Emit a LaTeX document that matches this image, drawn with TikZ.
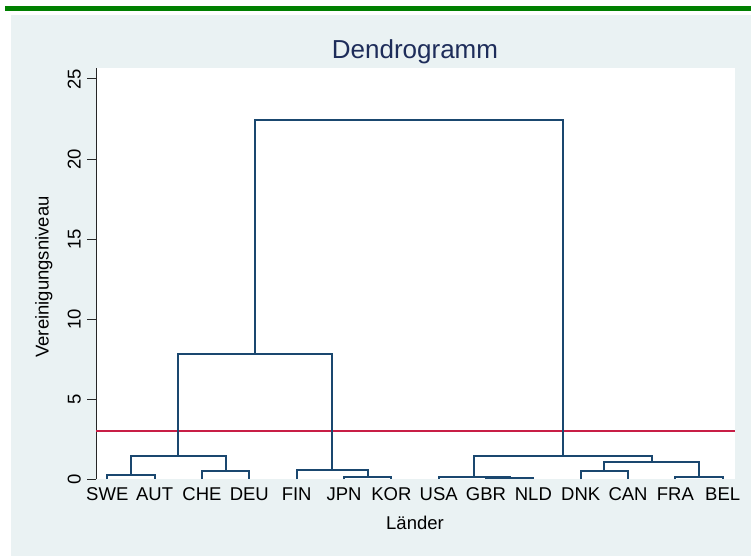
\documentclass[tikz,border=0pt]{standalone}
\usepackage{fontspec}
\setmainfont{Liberation Sans}
\usetikzlibrary{calc}
\definecolor{bgcol}{RGB}{234,242,243}
\definecolor{barcol}{RGB}{0,128,0}
\definecolor{dendcol}{RGB}{26,71,111}
\definecolor{cutcol}{RGB}{200,30,70}
\definecolor{titlecol}{RGB}{30,45,90}
\tikzset{
  dendline/.style={draw=dendcol,line width=1.8pt,line join=miter},
  ticklab/.style={font=\fontsize{18.5}{20}\selectfont,inner sep=0pt,rotate=90,anchor=south},
  leaflab/.style={font=\fontsize{18.5}{20}\selectfont,inner sep=0pt,anchor=base},
  tickline/.style={draw=black!85,line width=1pt}
}
\begin{document}
\begin{tikzpicture}[x=1pt,y=-1pt]
\useasboundingbox (0,0) rectangle (751,559);
\fill[white] (0,0) rectangle (751,559);
% top bar and background
\fill[barcol] (5,6) rectangle (751,11);
\fill[bgcol] (11,15) rectangle (751,555.7);
% plot region
\fill[white] (96,68) rectangle (735,479);
% title
\node[font=\fontsize{26}{28}\selectfont,text=titlecol,inner sep=0pt,anchor=base] (title) at (415,59) {Dendrogramm};
% y axis
\coordinate (ax0) at (96,479);
\coordinate (ax1) at (96,68);
\draw[tickline] (ax0) -- (ax1);
\foreach \v/\n in {0/t0,5/t5,10/t10,15/t15,20/t20,25/t25}{
  \coordinate (\n a) at (87,{479-16*\v});
  \coordinate (\n b) at (96,{479-16*\v});
  \draw[tickline] (\n a) -- (\n b);
  \node[ticklab] (\n l) at (81,{479-16*\v}) {\v};
}
\node[font=\fontsize{18.5}{20}\selectfont,inner sep=0pt,rotate=90,anchor=base] (ytitle) at (48.5,277) {Vereinigungsniveau};
% leaves
\foreach \i/\lab in {0/SWE,1/AUT,2/CHE,3/DEU,4/FIN,5/JPN,6/KOR,7/USA,8/GBR,9/NLD,10/DNK,11/CAN,12/FRA,13/BEL}{
  \coordinate (L\i) at ({107.3+47.34*\i},479);
  \node[leaflab] (N\i) at ({107.3+47.34*\i},500) {\lab};
}
\node[leaflab] (xtitle) at (415,529) {Länder};
% cut line
\coordinate (c0) at (96,431);
\coordinate (c1) at (735,431);
\draw[draw=cutcol,line width=1.6pt] (c0) -- (c1);
% merge points
\coordinate (m1) at (130.97,475);
\coordinate (m2) at (225.65,471.3);
\coordinate (m3) at (178.31,455.7);
\coordinate (m4) at (367.67,476.7);
\coordinate (m5) at (332.17,470.3);
\coordinate (m6) at (255.24,354);
\coordinate (m7) at (509.69,478.3);
\coordinate (m8) at (474.19,477);
\coordinate (m9) at (604.37,470.7);
\coordinate (m10) at (699.05,477);
\coordinate (m11) at (651.71,461.7);
\coordinate (m12) at (562.95,455.7);
\coordinate (m13) at (409.10,120);
% dendrogram
\draw[dendline] (L0) |- (m1) -| (L1);
\draw[dendline] (L2) |- (m2) -| (L3);
\draw[dendline] (m1) |- (m3) -| (m2);
\draw[dendline] (L5) |- (m4) -| (L6);
\draw[dendline] (L4) |- (m5) -| (m4);
\draw[dendline] (m3) |- (m6) -| (m5);
\draw[dendline] (L8) |- (m7) -| (L9);
\draw[dendline] (L7) |- (m8) -| (m7);
\draw[dendline] (L10) |- (m9) -| (L11);
\draw[dendline] (L12) |- (m10) -| (L13);
\draw[dendline] (m9) |- (m11) -| (m10);
\draw[dendline] (m8) |- (m12) -| (m11);
\draw[dendline] (m6) |- (m13) -| (m12);
\end{tikzpicture}
\end{document}
